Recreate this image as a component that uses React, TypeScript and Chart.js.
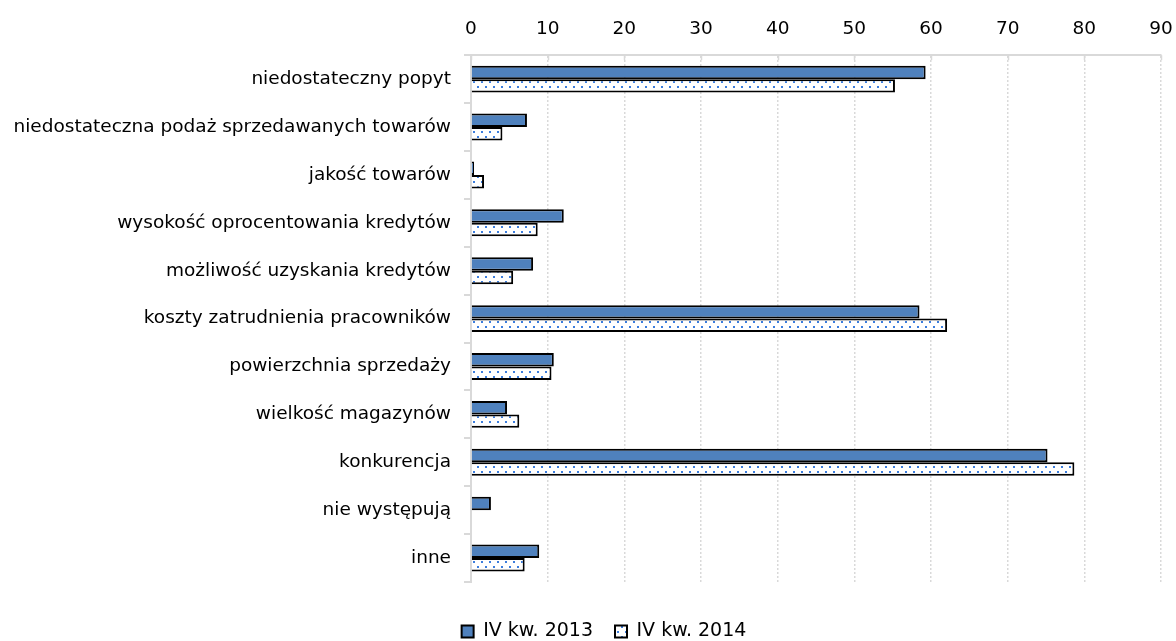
import { useEffect, useRef } from "react";
import { Chart, registerables } from "chart.js";

Chart.register(...registerables);

const categories = [
  "niedostateczny popyt",
  "niedostateczna podaż sprzedawanych towarów",
  "jakość towarów",
  "wysokość oprocentowania kredytów",
  "możliwość uzyskania kredytów",
  "koszty zatrudnienia pracowników",
  "powierzchnia sprzedaży",
  "wielkość magazynów",
  "konkurencja",
  "nie występują",
  "inne",
];

const seriesLabels = ["IV kw. 2013", "IV kw. 2014"];

const values2013 = [59.3, 7.3, 0.4, 12.1, 8.1, 58.5, 10.8, 4.7, 75.2, 2.6, 8.9];
const values2014 = [55.3, 4.1, 1.7, 8.7, 5.5, 62.1, 10.5, 6.3, 78.7, null, 7.0];

const xTickValues = [0, 10, 20, 30, 40, 50, 60, 70, 80, 90];

const FONT = { family: "'DejaVu Sans', Tahoma, sans-serif", size: 18.5 };
const LEGEND_FONT = { family: "'DejaVu Sans', Tahoma, sans-serif", size: 19 };

function makeDotPattern(): CanvasPattern | string {
  const c = document.createElement("canvas");
  c.width = 8;
  c.height = 10;
  const g = c.getContext("2d");
  if (!g) return "#ffffff";
  g.fillStyle = "#ffffff";
  g.fillRect(0, 0, 8, 10);
  g.fillStyle = "#3b7ddd";
  g.fillRect(1, 1, 2, 2);
  g.fillRect(5, 6, 2, 2);
  const p = g.createPattern(c, "repeat");
  return p || "#ffffff";
}

const legendShift = {
  id: "legendShift",
  afterLayout(chart: any) {
    const l = chart.legend;
    if (l) {
      l.left += 16;
      l.right += 16;
    }
  },
};

const topAxisInnerTicks = {
  id: "topAxisInnerTicks",
  afterDatasetsDraw(chart: any) {
    const s = chart.scales.x;
    const ctx = chart.ctx;
    ctx.save();
    ctx.strokeStyle = "#d9d9d9";
    ctx.lineWidth = 1.5;
    ctx.setLineDash([]);
    s.ticks.forEach((t: any) => {
      const px = Math.round(s.getPixelForValue(t.value)) + 0.5;
      ctx.beginPath();
      ctx.moveTo(px, s.bottom);
      ctx.lineTo(px, s.bottom + 5);
      ctx.stroke();
    });
    ctx.restore();
  },
};

export default function App() {
  const ref = useRef<HTMLCanvasElement | null>(null);

  useEffect(() => {
    if (!ref.current) return;
    const pattern = makeDotPattern();
    const chart = new Chart(ref.current, {
      type: "bar",
      data: {
        labels: categories,
        datasets: [
          {
            label: seriesLabels[0],
            data: values2013,
            backgroundColor: "#4f81bd",
            borderColor: "#000000",
            borderWidth: 2,
            categoryPercentage: 0.5625,
            barPercentage: 1.0,
          },
          {
            label: seriesLabels[1],
            data: values2014 as any,
            backgroundColor: pattern as any,
            borderColor: "#000000",
            borderWidth: 2,
            categoryPercentage: 0.5625,
            barPercentage: 1.0,
          },
        ],
      },
      options: {
        indexAxis: "y",
        animation: false,
        responsive: true,
        maintainAspectRatio: false,
        layout: { padding: { top: 3, right: 0, left: 0, bottom: -10 } },
        plugins: {
          tooltip: { enabled: false },
          legend: {
            position: "bottom",
            labels: {
              boxWidth: 12,
              boxHeight: 12,
              padding: 22,
              color: "#000000",
              font: LEGEND_FONT,
            },
          },
        },
        scales: {
          x: {
            position: "top",
            min: 0,
            max: 90,
            afterBuildTicks: (s: any) => {
              s.ticks = xTickValues.map((v) => ({ value: v }));
            },
            afterFit: (s: any) => {
              s.paddingRight = 15;
            },
            ticks: { padding: 15, color: "#000000", font: FONT },
            grid: { color: "#d9d9d9", lineWidth: 1.5, drawTicks: false },
            border: { color: "#d9d9d9", width: 2, dash: [2, 2] },
          },
          x2: {
            axis: "x",
            type: "linear",
            position: "bottom",
            display: true,
            ticks: { display: false },
            grid: { display: false },
            border: { display: false },
            afterFit: (s: any) => {
              s.height = 18;
            },
          },
          y: {
            ticks: { padding: 13, color: "#000000", font: FONT },
            grid: {
              drawOnChartArea: false,
              color: "#d9d9d9",
              lineWidth: 2,
              tickLength: 7,
              offset: true,
            },
            border: { color: "#d9d9d9", width: 2 },
            afterFit: (s: any) => {
              s.width = 471;
            },
          },
        },
      } as any,
      plugins: [legendShift, topAxisInnerTicks],
    });
    return () => chart.destroy();
  }, []);

  return (
    <div style={{ position: "fixed", left: 0, top: 0, width: 1176, height: 641, background: "#fff" }}>
      <canvas ref={ref} />
    </div>
  );
}
